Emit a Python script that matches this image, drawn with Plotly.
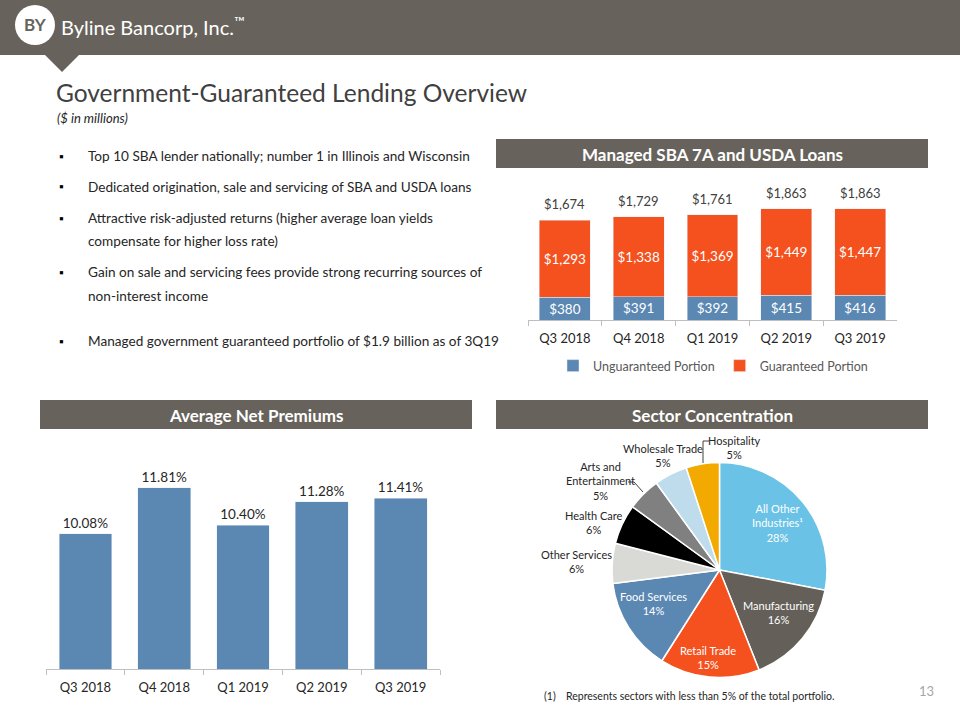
import plotly.graph_objects as go

W, H = 960, 720
FONT = "Lato"
BAND = "#67635C"
BLUE = "#5B87B3"
ORANGE = "#F4511E"
INK = "#262626"

# ---- data -------------------------------------------------------------
quarters = ["Q3 2018", "Q4 2018", "Q1 2019", "Q2 2019", "Q3 2019"]
unguaranteed = [380, 391, 392, 415, 416]
guaranteed = [1293, 1338, 1369, 1449, 1447]
managed_totals = [1674, 1729, 1761, 1863, 1863]
net_premiums = [10.08, 11.81, 10.40, 11.28, 11.41]

sectors = ["All Other<br>Industries¹", "Manufacturing", "Retail Trade", "Food Services",
           "Other Services", "Health Care", "Arts and<br>Entertainment",
           "Wholesale Trade", "Hospitality"]
sector_pct = [28, 16, 15, 14, 6, 6, 5, 5, 5]
sector_colors = ["#6AC2E6", "#645F58", ORANGE, BLUE, "#D9D9D6", "#000000",
                 "#808080", "#BFDCEC", "#F2A900"]

bullets = [
    ["Top 10 SBA lender nationally; number 1 in Illinois and Wisconsin"],
    ["Dedicated origination, sale and servicing of SBA and USDA loans"],
    ["Attractive risk-adjusted returns (higher average loan yields",
     "compensate for higher loss rate)"],
    ["Gain on sale and servicing fees provide strong recurring sources of",
     "non-interest income"],
    ["Managed government guaranteed portfolio of $1.9 billion as of 3Q19"],
]

# label placement for the pie (pixel centres)
pie_label_pos = [(777, 523), (778, 612), (708, 657), (653, 603), (576, 561),
                 (594, 522), (600, 481), (663, 455), (734, 447)]


def text(fig, x, y, s, size=13, color=INK, xanchor="left", bold=False, **kw):
    fig.add_annotation(
        x=x / W, y=1 - y / H, xref="paper", yref="paper",
        text=f"<b>{s}</b>" if bold else s, showarrow=False,
        xanchor=xanchor, yanchor="middle",
        font=dict(family=FONT, size=size, color=color), **kw,
    )


def rect(fig, x0, y0, x1, y1, color):
    fig.add_shape(type="rect", xref="paper", yref="paper",
                  x0=x0 / W, x1=x1 / W, y0=1 - y1 / H, y1=1 - y0 / H,
                  fillcolor=color, line_width=0)


def polyline(fig, pts, color="#404040"):
    path = "M " + " L ".join(f"{x / W},{1 - y / H}" for x, y in pts)
    fig.add_shape(type="path", xref="paper", yref="paper", path=path,
                  line=dict(color=color, width=1))


fig = go.Figure()

# Managed SBA 7A and USDA loans (stacked)
fig.add_trace(go.Bar(
    x=quarters, y=unguaranteed, name="Unguaranteed Portion",
    marker_color=BLUE, width=0.69,
    text=[f"${v:,}" for v in unguaranteed], textposition="inside",
    insidetextanchor="middle", textangle=0, constraintext="none",
    textfont=dict(family=FONT, size=13.5, color="white"),
))
fig.add_trace(go.Bar(
    x=quarters, y=guaranteed, name="Guaranteed Portion",
    marker_color=ORANGE, width=0.69,
    text=[f"${v:,}" for v in guaranteed], textposition="inside",
    insidetextanchor="middle", textangle=0, constraintext="none",
    textfont=dict(family=FONT, size=13.5, color="white"),
))
for q, t in zip(quarters, managed_totals):
    fig.add_annotation(x=q, y=t, xref="x", yref="y", text=f"${t:,}",
                       showarrow=False, yanchor="middle", yshift=16,
                       font=dict(family=FONT, size=13, color="#404040"))

# Average net premiums
fig.add_trace(go.Bar(
    x=quarters, y=net_premiums, xaxis="x2", yaxis="y2",
    marker_color=BLUE, width=0.67, showlegend=False,
    text=[f"{v:.2f}%" for v in net_premiums], textposition="outside",
    cliponaxis=False, constraintext="none",
    textfont=dict(family=FONT, size=13.5, color=INK),
))

# Sector concentration
fig.add_trace(go.Pie(
    labels=[s.replace("<br>", " ") for s in sectors], values=sector_pct,
    sort=False, direction="clockwise", rotation=0,
    marker=dict(colors=sector_colors, line=dict(color="white", width=1.5)),
    textinfo="none", showlegend=False,
    domain=dict(x=[612 / W, 827 / W], y=[1 - 677.5 / H, 1 - 462.5 / H]),
))
for i, (name, pct) in enumerate(zip(sectors, sector_pct)):
    x, y = pie_label_pos[i]
    fig.add_annotation(
        x=x / W, y=1 - y / H, xref="paper", yref="paper",
        text=f"{name}<br>{pct}%", showarrow=False, align="center",
        xanchor="center", yanchor="middle",
        font=dict(family=FONT, size=11, color="white" if i < 4 else INK),
    )
polyline(fig, [(628, 482), (634, 482), (643, 492)])
polyline(fig, [(709, 441), (703, 441), (703, 463)])

# header band + logo
rect(fig, 0, 0, W, 55, BAND)
fig.add_shape(type="path", xref="paper", yref="paper", fillcolor=BAND, line_width=0,
              path=f"M {45 / W},{1 - 55 / H} L {79 / W},{1 - 55 / H} L {62 / W},{1 - 72 / H} Z")
fig.add_shape(type="circle", xref="paper", yref="paper",
              x0=15 / W, x1=55 / W, y0=1 - 45 / H, y1=1 - 5 / H,
              fillcolor="white", line_width=0)
text(fig, 35, 25, "BY", size=17, color=BAND, xanchor="center", bold=True)
text(fig, 59, 26, "Byline Bancorp, Inc.<sup>™</sup>", size=20, color="white")

# titles
text(fig, 54, 93, "Government-Guaranteed Lending Overview", size=24.5, color="#404040")
text(fig, 55, 118, "<i>($ in millions)</i>", size=13)

# section header bars
for x0, y0, x1, y1, label in [(496, 139, 928, 168, "Managed SBA 7A and USDA Loans"),
                              (40, 400, 472, 429, "Average Net Premiums"),
                              (496, 400, 928, 429, "Sector Concentration")]:
    rect(fig, x0, y0, x1, y1, BAND)
    text(fig, (x0 + x1) / 2, (y0 + y1) / 2 + 1, label, size=17, color="white",
         xanchor="center", bold=True)

# bullets
line_y = [[156], [187], [218, 241], [272, 296], [341]]
for lines, ys in zip(bullets, line_y):
    text(fig, 57, ys[0], "▪", size=12, color="#000000")
    for s, y in zip(lines, ys):
        text(fig, 86, y, s, size=13.6)

# footnote + page number
text(fig, 542, 696, "(1)", size=10.5)
text(fig, 564, 696, "Represents sectors with less than 5% of the total portfolio.", size=10.5)
text(fig, 926, 691, "13", size=13, color="#A6A6A6", xanchor="center")

axis_style = dict(type="category", showline=True, linecolor="#BFBFBF", ticks="outside",
                  tickson="boundaries", ticklen=5, tickcolor="#BFBFBF", showgrid=False,
                  zeroline=False, ticklabelstandoff=6,
                  tickfont=dict(family=FONT, size=13, color=INK))

fig.update_layout(
    width=W, height=H,
    margin=dict(l=0, r=0, t=0, b=0),
    barmode="stack",
    paper_bgcolor="white",
    plot_bgcolor="rgba(0,0,0,0)",
    font=dict(family=FONT, color=INK),
    xaxis=dict(domain=[528 / W, 897 / W], anchor="y", **axis_style),
    yaxis=dict(domain=[1 - 320 / H, 1 - 200.6 / H], range=[0, 2000], visible=False),
    xaxis2=dict(domain=[46 / W, 440 / W], anchor="y2", **axis_style),
    yaxis2=dict(domain=[1 - 669 / H, 1 - 429.6 / H], range=[5, 14], visible=False),
    legend=dict(orientation="h", x=713 / W, xanchor="center", y=1 - 366 / H,
                yanchor="middle", font=dict(family=FONT, size=12.5, color="#595959"),
                itemwidth=30, traceorder="normal"),
    hovermode=False,
)

# the page body has a default 8px margin; drop it so the slide sits at 0,0
fig.write_html("out.html", config={"displayModeBar": False},
               post_script="document.body.style.margin='0';")
